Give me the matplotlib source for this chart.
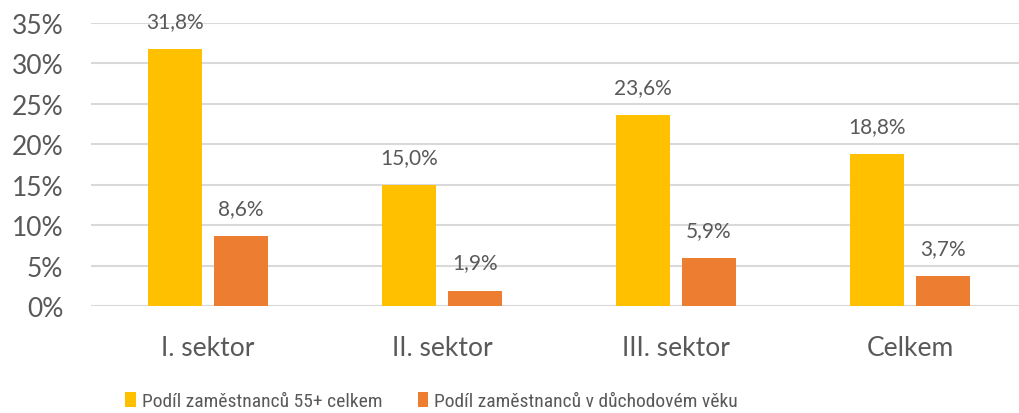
import matplotlib
matplotlib.use('Agg')
import matplotlib.pyplot as plt
from matplotlib import font_manager
import numpy as np

categories = ['I. sektor', 'II. sektor', 'III. sektor', 'Celkem']
podil_55 = [31.8, 15.0, 23.6, 18.8]
podil_duchod = [8.6, 1.9, 5.9, 3.7]
series_names = ['Podíl zaměstnanců 55+ celkem', 'Podíl zaměstnanců v důchodovém věku']

plt.rcParams['font.family'] = ['Lato', 'DejaVu Sans']
text_color = '#595959'

# uzsi pismo pro legendu, pokud je k dispozici
installed = {f.name for f in font_manager.fontManager.ttflist}
narrow = [n for n in ['Liberation Sans Narrow', 'DejaVu Sans Condensed',
                      'Roboto Condensed', 'Open Sans Condensed'] if n in installed]
if narrow:
    legend_font = {'family': [narrow[0], 'Lato'], 'size': 14}
    colspace = 1.8
else:
    legend_font = {'family': ['Lato'], 'size': 12}
    colspace = 1.4

fig = plt.figure(figsize=(10.2, 4.14), dpi=100)
ax = fig.add_axes([91 / 1020, 1 - 307 / 414, (1020 - 91) / 1020, (307 - 24) / 414])

x = np.arange(len(categories))
w = 0.227
off = 0.141
ax.bar(x - off, podil_55, w, color='#FFC000', zorder=3, label=series_names[0])
ax.bar(x + off, podil_duchod, w, color='#ED7D31', zorder=3, label=series_names[1])

# popisky hodnot nad sloupci
for xs, vals in ((x - off, podil_55), (x + off, podil_duchod)):
    for xi, v in zip(xs, vals):
        ax.annotate(f'{v:.1f}%'.replace('.', ','), (xi, v), xytext=(0, 13),
                    textcoords='offset points', ha='center', va='bottom',
                    fontsize=15, color=text_color)

ax.set_xlim(-0.5, (1020 - 91) / 234 - 0.5)
ax.set_ylim(0, 35)
ax.set_yticks(range(0, 36, 5))
ax.set_yticklabels([f'{t}%' for t in range(0, 36, 5)], fontsize=19, color=text_color)
ax.set_xticks(x)
ax.set_xticklabels(categories, fontsize=19, color=text_color)
ax.tick_params(axis='both', length=0)
ax.tick_params(axis='x', pad=21)
ax.tick_params(axis='y', pad=20)
ax.grid(axis='y', color='#D9D9D9', linewidth=1.5, zorder=0)
for s in ax.spines.values():
    s.set_visible(False)

fig.legend(loc='center left', bbox_to_anchor=(108 / 1020, 1 - 402 / 414), ncol=2,
           frameon=False, prop=legend_font,
           handlelength=0.55, handleheight=0.8, handletextpad=0.3,
           columnspacing=colspace, labelcolor=text_color)

fig.savefig('out.png', dpi=100)
